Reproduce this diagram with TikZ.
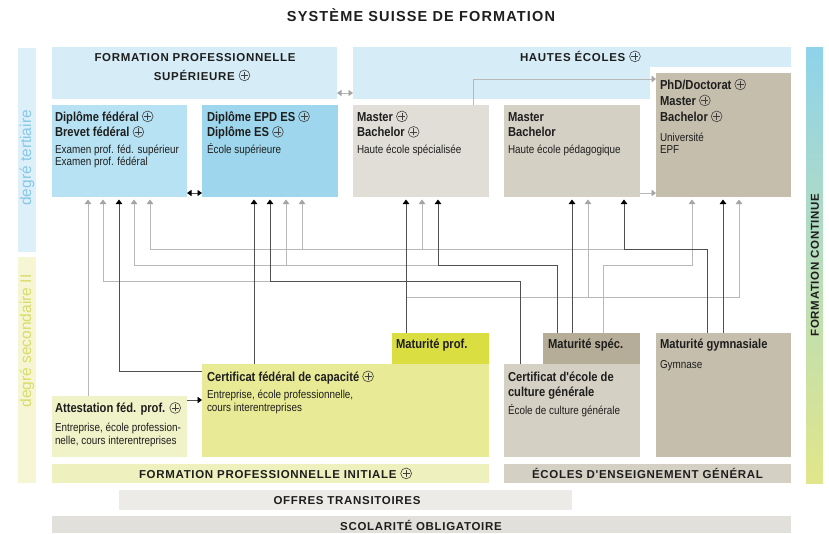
\documentclass[tikz,border=0pt]{standalone}
\usepackage{fontspec}
\setmainfont{Liberation Sans}
\newfontfamily\narrowfont[FakeStretch=0.86]{Liberation Sans}
\newfontfamily\headfont[LetterSpace=6]{Liberation Sans}
\newfontfamily\titlefont[LetterSpace=8]{Liberation Sans}
\usetikzlibrary{arrows.meta,calc}

\definecolor{txt}{HTML}{1E1E1E}
\definecolor{cfps}{HTML}{D6EDF7}
\definecolor{cdipfed}{HTML}{B7E2F3}
\definecolor{cepd}{HTML}{9ED7ED}
\definecolor{ches}{HTML}{E0DED6}
\definecolor{chep}{HTML}{D5D0C4}
\definecolor{cuni}{HTML}{C5BEAC}
\definecolor{ctert}{HTML}{DDF0FA}
\definecolor{ctertt}{HTML}{86C8E6}
\definecolor{csec}{HTML}{F6F6D4}
\definecolor{csect}{HTML}{D8DC6A}
\definecolor{catt}{HTML}{F0F2C8}
\definecolor{ccfc}{HTML}{E8EA96}
\definecolor{cmatprof}{HTML}{DADE40}
\definecolor{cfpi}{HTML}{EEF0BE}
\definecolor{cmatspec}{HTML}{B5AD98}
\definecolor{coffres}{HTML}{ECEBE7}
\definecolor{cscol}{HTML}{E2E0DA}
\definecolor{fctop}{HTML}{8ED3EB}
\definecolor{fcmid}{HTML}{BFE3C9}
\definecolor{fcbot}{HTML}{E1E68A}
\definecolor{lnk}{HTML}{505050}
\definecolor{lng}{HTML}{B8B8B8}
\definecolor{hdg}{HTML}{A5A5A5}

\newcommand\bn{\narrowfont\bfseries\fontsize{13}{15}\selectfont}
\newcommand\rn{\narrowfont\fontsize{11.5}{13}\selectfont}
\newcommand\hd{\headfont\bfseries\fontsize{11.5}{14}\selectfont}
\newcommand\degfont{\fontsize{15.5}{18}\selectfont}
\newcommand\cplus{\tikz[baseline=-4.6pt]{\draw[line width=0.6pt,draw=black!75] (0pt,0pt) circle[radius=5.4pt]; \draw[line width=0.6pt,draw=black!75] (-3.5pt,0pt) -- (3.5pt,0pt) (0pt,-3.5pt) -- (0pt,3.5pt);}}

\tikzset{
  box/.style={draw=none, inner sep=0pt, outer sep=0pt, anchor=north west},
  lbl/.style={inner sep=0pt, outer sep=0pt, anchor=base west, text=txt},
  bl/.style={lbl, font=\bn},
  rl/.style={lbl, font=\rn},
  hl/.style={inner sep=0pt, outer sep=0pt, anchor=base, text=txt, font=\hd},
  darkline/.style={draw=lnk, line width=0.95pt},
  grayline/.style={draw=lng, line width=0.95pt},
  darkarr/.style={darkline, -{Triangle[length=4.5pt,width=6.5pt,color=black]}},
  grayarr/.style={grayline, -{Triangle[length=4.5pt,width=6.5pt,color=hdg]}},
}

\begin{document}
\begin{tikzpicture}[x=1pt,y=-1pt]
\useasboundingbox (0,0) rectangle (829,533);
\fill[white] (0,0) rectangle (829,533);

% title
\node[inner sep=0pt, anchor=base, text=txt, font=\titlefont\bfseries\fontsize{14.5}{17}\selectfont] (title) at (421,21.5) {SYSTÈME SUISSE DE FORMATION};

% side bars
\node[box, fill=ctert, minimum width=18pt, minimum height=204pt] (tertbar) at (18,48) {};
\node[box, fill=csec, minimum width=18pt, minimum height=226pt] (secbar) at (18,257) {};
\node[rotate=90, text=ctertt, font=\degfont, inner sep=0pt] (terttxt) at (27,158) {degré tertiaire};
\node[rotate=90, text=csect, font=\degfont, inner sep=0pt] (sectxt) at (27,341) {degré secondaire II};

\shade[top color=fctop, middle color=fcmid, bottom color=fcbot] (806,47) rectangle (823,483);
\node[rotate=90, text=txt, font=\hd, inner sep=0pt] (fc) at (815,265) {FORMATION CONTINUE};

% tertiary headers
\node[box, fill=cfps, minimum width=285pt, minimum height=52pt] (fps) at (52,47) {};
\node[box, fill=cfps, minimum width=438pt, minimum height=20pt] (hestrip) at (353,47) {};
\fill[cfps] (353,66.5) rectangle (650,99);
\node[hl] (fpst1) at (195,61) {FORMATION PROFESSIONNELLE};
\node[hl] (fpst2) at (202,80) {SUPÉRIEURE \cplus};
\node[lbl, font=\hd] (hest) at (520,61) {HAUTES ÉCOLES \cplus};

% tertiary boxes
\node[box, fill=cdipfed, minimum width=135pt, minimum height=92pt] (dipfed) at (52,105) {};
\node[box, fill=cepd, minimum width=136pt, minimum height=92pt] (epd) at (202,105) {};
\node[box, fill=ches, minimum width=136pt, minimum height=92pt] (hes) at (353,105) {};
\node[box, fill=chep, minimum width=136pt, minimum height=92pt] (hep) at (504,105) {};
\node[box, fill=cuni, minimum width=135pt, minimum height=124pt] (uni) at (656,73) {};

\node[bl] (d1) at (55,121) {Diplôme fédéral \cplus};
\node[bl] (d2) at (55,136.5) {Brevet fédéral \cplus};
\node[rl] (d3) at (55,153) {Examen prof. féd. supérieur};
\node[rl] (d4) at (55,165) {Examen prof. fédéral};

\node[bl] (e1) at (207,121) {Diplôme EPD ES \cplus};
\node[bl] (e2) at (207,136.5) {Diplôme ES \cplus};
\node[rl] (e3) at (207,153) {École supérieure};

\node[bl] (h1) at (357,121) {Master \cplus};
\node[bl] (h2) at (357,136.5) {Bachelor \cplus};
\node[rl] (h3) at (357,153) {Haute école spécialisée};

\node[bl] (p1) at (508,121) {Master};
\node[bl] (p2) at (508,136.5) {Bachelor};
\node[rl] (p3) at (508,153) {Haute école pédagogique};

\node[bl] (u1) at (660,89) {PhD/Doctorat \cplus};
\node[bl] (u2) at (660,105) {Master \cplus};
\node[bl] (u3) at (660,121) {Bachelor \cplus};
\node[rl] (u4) at (660,141) {Université};
\node[rl] (u5) at (660,153) {EPF};

% secondary boxes
\node[box, fill=catt, minimum width=135pt, minimum height=61pt] (attest) at (52,396) {};
\node[box, fill=ccfc, minimum width=287pt, minimum height=93pt] (cfc) at (202,364) {};
\node[box, fill=cmatprof, minimum width=97pt, minimum height=31pt] (matprof) at (392,333) {};
\node[box, fill=chep, minimum width=136pt, minimum height=93pt] (ecg) at (504,364) {};
\node[box, fill=cmatspec, minimum width=97pt, minimum height=31pt] (matspec) at (543,333) {};
\node[box, fill=cuni, minimum width=135pt, minimum height=124pt] (gymn) at (656,333) {};

\node[bl] (a1) at (55,412.5) {Attestation féd. prof. \cplus};
\node[rl] (a2) at (55,431) {Entreprise, école profession-};
\node[rl] (a3) at (55,444) {nelle, cours interentreprises};

\node[bl] (c1) at (207,381) {Certificat fédéral de capacité \cplus};
\node[rl] (c2) at (207,398.5) {Entreprise, école professionnelle,};
\node[rl] (c3) at (207,411.5) {cours interentreprises};

\node[bl] (mp) at (396,348) {Maturité prof.};
\node[bl] (ms) at (548,348) {Maturité spéc.};
\node[bl] (g1) at (660,348) {Maturité gymnasiale};
\node[rl] (g2) at (660,368) {Gymnase};

\node[bl] (k1) at (508,381.5) {Certificat d'école de};
\node[bl] (k2) at (508,396.5) {culture générale};
\node[rl] (k3) at (508,414) {École de culture générale};

% bottom bars
\node[box, fill=cfpi, minimum width=437pt, minimum height=19pt] (fpi) at (52,464) {};
\node[box, fill=chep, minimum width=287pt, minimum height=19pt] (eeg) at (504,464) {};
\node[box, fill=coffres, minimum width=453pt, minimum height=20pt] (offres) at (119,490) {};
\node[box, fill=cscol, minimum width=739pt, minimum height=17pt] (scol) at (52,516) {};
\node[lbl, font=\hd] (fpit) at (139,478) {FORMATION PROFESSIONNELLE INITIALE \cplus};
\node[hl] (eegt) at (647.5,478) {ÉCOLES D'ENSEIGNEMENT GÉNÉRAL};
\node[hl] (offt) at (347,504) {OFFRES TRANSITOIRES};
\node[hl] (scolt) at (421,530.5) {SCOLARITÉ OBLIGATOIRE};

% ---------- connectors: gray first ----------
\draw[grayarr] ($(attest.north west)+(36,0)$) -- ($(dipfed.south west)+(36,2.5)$);
\draw[grayarr] ($(epd.south west)+(68,84)$) -| ($(dipfed.south west)+(51,2.5)$);
\draw[grayarr] ($(hes.south west)+(85,68)$) -| ($(dipfed.south west)+(82,2.5)$);
\draw[grayarr] ($(epd.south west)+(84,68)$) -- ($(epd.south west)+(84,2.5)$);
\draw[grayarr] ($(hep.south west)+(120,52)$) -| ($(dipfed.south west)+(98,2.5)$);
\draw[grayarr] ($(epd.south west)+(100,52)$) -- ($(epd.south west)+(100,2.5)$);
\draw[grayarr] ($(hes.south west)+(69,52)$) -- ($(hes.south west)+(69,2.5)$);
\draw[grayarr] ($(hes.south west)+(53,100)$) -| ($(uni.south west)+(83,2.5)$);
\draw[grayarr] ($(hep.south west)+(84,100)$) -- ($(hep.south west)+(84,2.5)$);
\draw[grayarr] ($(matspec.north west)+(60,0)$) |- ($(uni.south west)+(36,68)$) -- ($(uni.south west)+(36,2.5)$);
\draw[grayarr] ($(hes.north west)+(120,0)$) |- ($(uni.north west)+(0,6)$);
\draw[grayarr] ($(hep.south east)+(0,-4)$) -- ($(uni.south west)+(0,-4)$);
\draw[grayline, {Triangle[length=4.5pt,width=6pt,color=hdg]}-{Triangle[length=4.5pt,width=6pt,color=hdg]}] ($(fps.south east)+(0,-6)$) -- ($(hestrip.south west)+(0,26)$);

% ---------- dark connectors ----------
\draw[darkarr] ($(ecg.north west)+(16,0)$) |- ($(epd.south west)+(68,84)$) -- ($(epd.south west)+(68,2.5)$);
\draw[darkarr] ($(cfc.north west)+(0,7)$) -| ($(dipfed.south west)+(67,2.5)$);
\draw[darkarr] ($(matspec.north west)+(14,0)$) |- ($(hes.south west)+(85,68)$) -- ($(hes.south west)+(85,2.5)$);
\draw[darkarr] ($(gymn.north west)+(51,0)$) |- ($(hep.south west)+(120,52)$) -- ($(hep.south west)+(120,2.5)$);
\draw[darkarr] ($(cfc.north west)+(52,0)$) -- ($(epd.south west)+(52,2.5)$);
\draw[darkarr] ($(matprof.north west)+(14,0)$) -- ($(hes.south west)+(53,2.5)$);
\draw[darkarr] ($(matspec.north west)+(29,0)$) -- ($(hep.south west)+(68,2.5)$);
\draw[darkarr] ($(gymn.north west)+(67,0)$) -- ($(uni.south west)+(67,2.5)$);
\draw[darkline, {Triangle[length=4.5pt,width=6pt,color=black]}-{Triangle[length=4.5pt,width=6pt,color=black]}] ($(dipfed.south east)+(0,-4)$) -- ($(epd.south west)+(0,-4)$);
\draw[darkarr] ($(attest.north east)+(0,4)$) -- ($(cfc.south west)+(0,-57)$);
\end{tikzpicture}
\end{document}
